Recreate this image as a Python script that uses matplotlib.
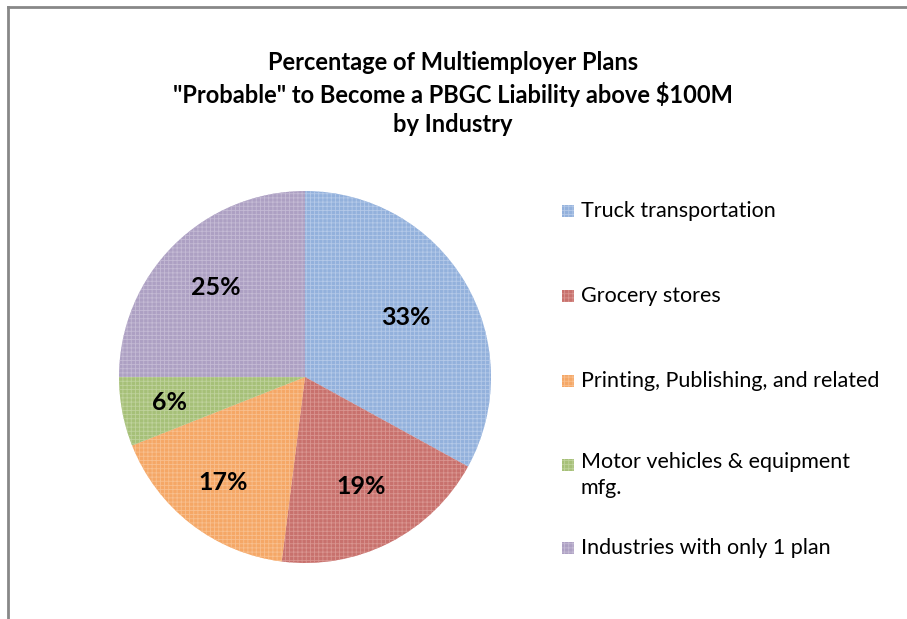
import matplotlib.pyplot as plt
from matplotlib.patches import Rectangle
from matplotlib.lines import Line2D
import numpy as np

industries = ["Truck transportation", "Grocery stores",
              "Printing, Publishing, and related",
              "Motor vehicles & equipment\nmfg.",
              "Industries with only 1 plan"]
shares = [33, 19, 17, 6, 25]
colors = ["#93b1dc", "#c8716d", "#f5a766", "#a6c078", "#ada0c3"]
hatch_colors = ["#b4c9e8", "#d99590", "#f8bf8e", "#bfd29c", "#c4bad4"]

plt.rcParams["font.family"] = ["Lato", "DejaVu Sans"]
plt.rcParams["hatch.linewidth"] = 0.6

W, H = 907, 619
fig = plt.figure(figsize=(W / 100, H / 100), dpi=100)

# chart frame (cut off at right and bottom)
fig.add_artist(Line2D([8 / W, 8 / W], [0, 1 - 7 / H], color="#888888", lw=2))
fig.add_artist(Line2D([8 / W, 1], [1 - 7 / H, 1 - 7 / H], color="#888888", lw=2))

fig.text(453 / W, 1 - 94 / H,
         "Percentage of Multiemployer Plans\n\"Probable\" to Become a PBGC Liability above $100M\nby Industry",
         ha="center", va="center", fontsize=17, fontweight="bold", linespacing=1.35)

cx, cy, r = 305, 377, 186
ax = fig.add_axes([(cx - r) / W, (H - cy - r) / H, 2 * r / W, 2 * r / H])
wedges, _ = ax.pie(shares, colors=colors, startangle=90, counterclock=False,
                   wedgeprops=dict(linewidth=0))
for w, hc in zip(wedges, hatch_colors):
    w.set_hatch("++++")
    w.set_edgecolor(hc)
    w.set_linewidth(0)

dists = [0.63, 0.66, 0.72, 0.74, 0.68]
cum = 0
for s, d in zip(shares, dists):
    mid = np.deg2rad(90 - 3.6 * (cum + s / 2))
    cum += s
    ax.text(d * np.cos(mid), d * np.sin(mid), f"{s}%", ha="center", va="center",
            fontsize=18, fontweight="bold")
ax.set_xlim(-1, 1)
ax.set_ylim(-1, 1)
ax.set_aspect("equal")
ax.axis("off")

# legend
leg_y = [211, 296, 381, 465, 548]
for name, c, hc, y in zip(industries, colors, hatch_colors, leg_y):
    fig.add_artist(Rectangle((562 / W, 1 - (y + 6) / H), 12 / W, 12 / H,
                             facecolor=c, edgecolor=hc, hatch="++++", lw=0))
    if "\n" in name:
        fig.text(581 / W, 1 - (y - 13) / H, name, ha="left", va="top",
                 fontsize=15.5, linespacing=1.35)
    else:
        fig.text(581 / W, 1 - y / H, name, ha="left", va="center", fontsize=15.5)

fig.savefig("out.png", dpi=100)
